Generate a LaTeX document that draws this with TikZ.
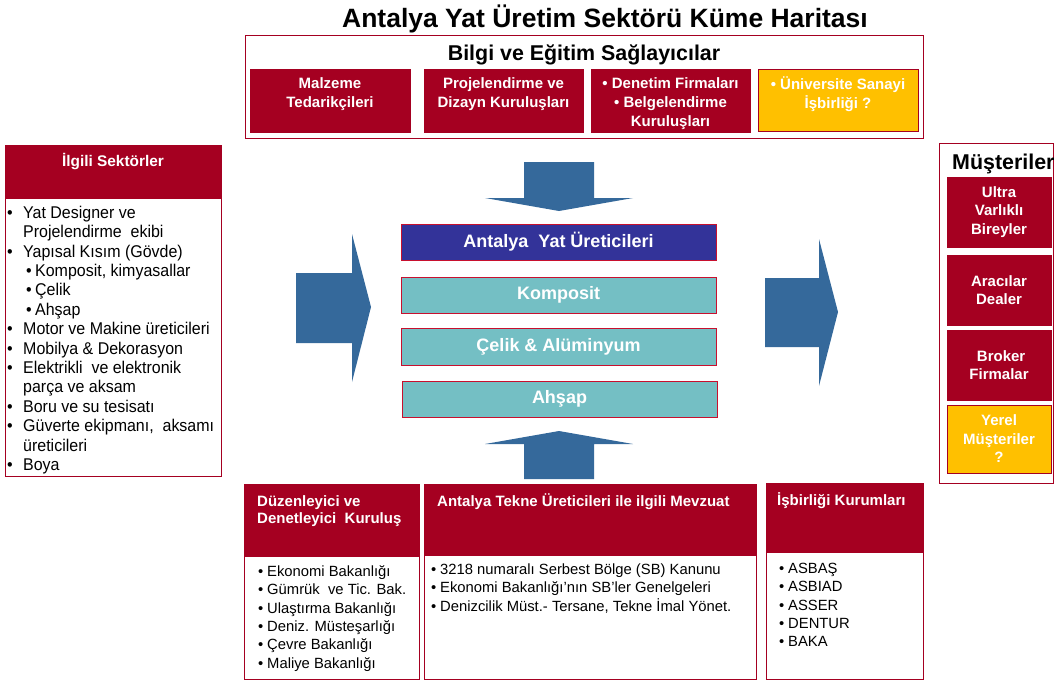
\documentclass[tikz,border=0pt]{standalone}
\usepackage{fontspec}
\setmainfont{Liberation Sans}
\newfontfamily\narrowb{Liberation Sans}[FakeStretch=0.94]
\usetikzlibrary{calc}
\definecolor{dred}{HTML}{A50021}
\definecolor{bred}{HTML}{C8102E}
\definecolor{navy}{HTML}{333399}
\definecolor{tealbox}{HTML}{74BFC4}
\definecolor{arrowblue}{HTML}{35699B}
\definecolor{gold}{HTML}{FFC000}
\newcommand\fsz[2]{\fontsize{#1}{#2}\selectfont}
\newcommand\mbul{\makebox[16pt][l]{•}}
\newcommand\mind{\hspace*{16pt}}
\newcommand\sbul{\hspace*{19pt}\makebox[9pt][l]{•}}
\newcommand\bbul{\makebox[9pt][l]{•}}
\begin{document}
\begin{tikzpicture}[x=1pt,y=-1pt,
  frame/.style={draw=dred, line width=1pt, fill=white, inner sep=0, outer sep=0, anchor=north west},
  redfill/.style={fill=dred, draw=dred, line width=0.6pt, inner sep=0, outer sep=0, anchor=north west},
  goldfill/.style={fill=gold, draw=dred, line width=0.8pt, inner sep=0, outer sep=0, anchor=north west},
  subtxt/.style={text=white, font=\bfseries\fsz{15}{19}, align=center, inner sep=0},
  hdtxt/.style={text=white, font=\bfseries\fsz{15}{17}, align=left, inner sep=0, anchor=north west},
  bodytxt/.style={font=\fsz{14.8}{18.4}, align=left, inner sep=0, anchor=north west},
  midbox/.style={draw=bred, line width=1pt, inner sep=0, outer sep=0, anchor=north west,
     minimum width=315, minimum height=36, text=white, font=\bfseries\fsz{18}{20}},
  custbox/.style={redfill, minimum width=104, minimum height=70, subtxt, font=\bfseries\fsz{15}{18.5}},
  bigarrow/.style={fill=arrowblue}
]
\useasboundingbox (0,0) rectangle (1054,680);

% title
\node[anchor=base, inner sep=0, font=\bfseries\fsz{26.5}{30}] (title) at (605,27.5) {Antalya Yat Üretim Sektörü Küme Haritası};

% top box
\node[frame, minimum width=678, minimum height=103] (bilgi) at (245,35) {};
\node[anchor=base, inner sep=0, font=\bfseries\fsz{21.4}{24}] (bilgiT) at (584,60.7) {Bilgi ve Eğitim Sağlayıcılar};
\node[redfill, minimum width=160, minimum height=63] (malz) at (250,69) {};
\node[redfill, minimum width=159, minimum height=63] (proj) at (424,69) {};
\node[redfill, minimum width=159, minimum height=63] (denet) at (591,69) {};
\node[goldfill, minimum width=160, minimum height=62] (univ) at (758,69) {};
\node[subtxt, anchor=north] (malzT) at ($(malz.north)+(0,5)$) {\rule{0pt}{14pt}Malzeme\\Tedarikçileri};
\node[subtxt, anchor=north] (projT) at ($(proj.north)+(0,5)$) {\rule{0pt}{14pt}Projelendirme ve\\Dizayn Kuruluşları};
\node[subtxt, anchor=north] (denetT) at ($(denet.north)+(0,5)$) {\rule{0pt}{14pt}• Denetim Firmaları\\• Belgelendirme\\Kuruluşları};
\node[subtxt, anchor=north] (univT) at ($(univ.north)+(0,6)$) {\rule{0pt}{14pt}• Üniversite Sanayi\\İşbirliği ?};

% left box
\node[frame, minimum width=216, minimum height=331] (ilgili) at (5,145) {};
\node[redfill, minimum width=216, minimum height=53] (ilgiliH) at (5,145) {};
\node[anchor=base, inner sep=0, text=white, font=\bfseries\fsz{15.4}{18}] (ilgiliT) at (113,166.5) {İlgili Sektörler};
\node[anchor=north west, align=left, inner sep=0, font=\narrowb\fsz{17}{19.4}] (ilgiliL) at (7,203) {%
\rule{0pt}{15pt}\mbul Yat Designer ve\\
\mind Projelendirme\ \ ekibi\\
\mbul Yapısal Kısım (Gövde)\\
\sbul Komposit, kimyasallar\\
\sbul Çelik\\
\sbul Ahşap\\
\mbul Motor ve Makine üreticileri\\
\mbul Mobilya \& Dekorasyon\\
\mbul Elektrikli\ \ ve elektronik\\
\mind parça ve aksam\\
\mbul Boru ve su tesisatı\\
\mbul Güverte ekipmanı,\ \ aksamı\\
\mind üreticileri\\
\mbul Boya};

% right box
\node[frame, minimum width=114, minimum height=340] (must) at (939,143) {};
\node[anchor=base west, inner sep=0, font=\bfseries\fsz{21.4}{24}] (mustT) at (952,169.7) {Müşteriler};
\node[custbox] (ultra) at (947,177) {Ultra\\Varlıklı\\Bireyler};
\node[custbox] (araci) at (947,255) {Aracılar\\Dealer};
\node[custbox] (broker) at (947,330) {\ Broker\\Firmalar};
\node[goldfill, minimum width=104, minimum height=68, subtxt, font=\bfseries\fsz{15}{18.5}] (yerel) at (947,405) {Yerel\\Müşteriler\\?};

% center boxes
\node[midbox, fill=navy] (yat) at (401,224) {Antalya\ \ Yat Üreticileri};
\node[midbox, fill=tealbox] (komp) at (401,277) {Komposit};
\node[midbox, fill=tealbox, minimum height=37] (celik) at (401,328) {Çelik \& Alüminyum};
\node[midbox, fill=tealbox] (ahsap) at (402,381) {Ahşap};

% arrows
\fill[bigarrow] (524,162) -- (594,162) -- (594,198) -- (633,198) -- (559,211) -- (485,198) -- (524,198) -- cycle;
\fill[bigarrow] (559,431) -- (633,444) -- (594,444) -- (594,479) -- (524,479) -- (524,444) -- (485,444) -- cycle;
\fill[bigarrow] (296,273) -- (352,273) -- (352,234) -- (371,307) -- (352,382) -- (352,343) -- (296,343) -- cycle;
\fill[bigarrow] (765,278) -- (819,278) -- (819,239) -- (838,312) -- (819,386) -- (819,347) -- (765,347) -- cycle;

% bottom box 1
\node[frame, minimum width=175, minimum height=195] (duz) at (244,484) {};
\node[redfill, minimum width=175, minimum height=72] (duzH) at (244,484) {};
\node[hdtxt] (duzT) at (257,492) {\rule{0pt}{14pt}Düzenleyici ve\\Denetleyici\ \ Kuruluş};
\node[bodytxt] (duzL) at (258,563) {\rule{0pt}{13pt}\bbul Ekonomi Bakanlığı\\
\bbul Gümrük\ \ ve Tic. Bak.\\
\bbul Ulaştırma Bakanlığı\\
\bbul Deniz. Müsteşarlığı\\
\bbul Çevre Bakanlığı\\
\bbul Maliye Bakanlığı};

% bottom box 2
\node[frame, minimum width=332, minimum height=195] (mev) at (424,484) {};
\node[redfill, minimum width=332, minimum height=71] (mevH) at (424,484) {};
\node[hdtxt] (mevT) at (437,492) {\rule{0pt}{14pt}Antalya Tekne Üreticileri ile ilgili Mevzuat};
\node[bodytxt] (mevL) at (431,561) {\rule{0pt}{13pt}\bbul 3218 numaralı Serbest Bölge (SB) Kanunu\\
\bbul Ekonomi Bakanlığı’nın SB’ler Genelgeleri\\
\bbul Denizcilik Müst.- Tersane, Tekne İmal Yönet.};

% bottom box 3
\node[frame, minimum width=157, minimum height=196] (isb) at (766,483) {};
\node[redfill, minimum width=157, minimum height=69] (isbH) at (766,483) {};
\node[hdtxt] (isbT) at (777,491) {\rule{0pt}{14pt}İşbirliği Kurumları};
\node[bodytxt] (isbL) at (779,560) {\rule{0pt}{13pt}\bbul ASBAŞ\\
\bbul ASBIAD\\
\bbul ASSER\\
\bbul DENTUR\\
\bbul BAKA};
\end{tikzpicture}
\end{document}
